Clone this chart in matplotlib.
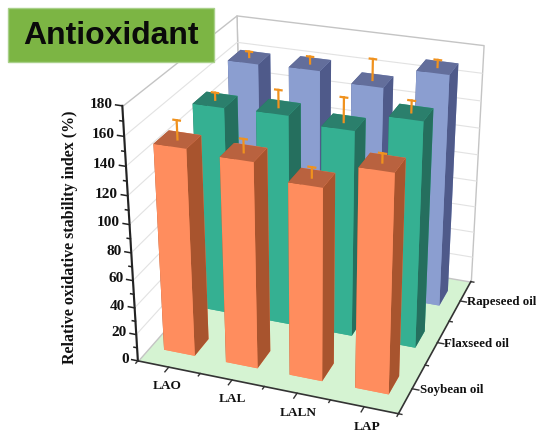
import numpy as np
import matplotlib
matplotlib.use('Agg')
import matplotlib.pyplot as plt
from matplotlib.patches import Rectangle
from mpl_toolkits.mplot3d import proj3d
from mpl_toolkits.mplot3d.art3d import Poly3DCollection

categories = ['LAO', 'LAL', 'LALN', 'LAP']
oils = ['Soybean oil', 'Flaxseed oil', 'Rapeseed oil']
soybean = [149, 147, 137, 154]
flaxseed = [153, 154, 150, 163]
rapeseed = [162, 163, 157, 172]
soybean_err = [13, 9, 7, 6]
flaxseed_err = [5, 12, 17, 8]
rapeseed_err = [4, 5, 15, 5]
zticks = [0, 20, 40, 60, 80, 100, 120, 140, 160, 180]

# front, side, top colours for each row
colors = [('#FF8D5E', '#A8542E', '#B9623F'),
          ('#35B092', '#256F5E', '#2B7F6C'),
          ('#8B9ED0', '#4F5A8A', '#636E9B')]
values = [soybean, flaxseed, rapeseed]
errors = [soybean_err, flaxseed_err, rapeseed_err]

plt.rcParams['font.family'] = ['Liberation Serif', 'DejaVu Serif']
plt.rcParams['font.weight'] = 'bold'

fig = plt.figure(figsize=(5.36, 4.34), dpi=100)
ax = fig.add_axes([0.03, -0.05, 1.08, 1.14], projection='3d', computed_zorder=False)
ax.set_proj_type('persp', focal_length=0.55)
ax.view_init(elev=26, azim=-70)
ax.set_box_aspect((3.7, 3.7, 3.74), zoom=0.92)
ax.set_xlim(0, 4)
ax.set_ylim(0, 3)
ax.set_zlim(0, 180)
ax.set_axis_off()


def label3d(x, y, z, s, **kw):
    # project to the 2d view so the text keeps a real 2d position
    px, py, _ = proj3d.proj_transform(x, y, z, ax.get_proj())
    ax.text2D(px, py, s, transform=ax.transData, va='center', color='#111111', **kw)


# --- walls and floor
floor = [[(0, 0, 0), (4, 0, 0), (4, 3, 0), (0, 3, 0)]]
ax.add_collection3d(Poly3DCollection(floor, facecolor='#D5F3D2', edgecolor='none', zorder=1))
back = [[(0, 3, 0), (4, 3, 0), (4, 3, 180), (0, 3, 180)]]
ax.add_collection3d(Poly3DCollection(back, facecolor='white', edgecolor='#C4C4C4', linewidth=1.0, zorder=1))
left = [[(0, 0, 0), (0, 3, 0), (0, 3, 180), (0, 0, 180)]]
ax.add_collection3d(Poly3DCollection(left, facecolor='white', edgecolor='#C4C4C4', linewidth=1.0, zorder=1))
for z in zticks[1:-1]:
    ax.plot([0, 0, 4], [0, 3, 3], [z, z, z], color='#E2E2E2', lw=0.8, zorder=2)

# --- axes lines, ticks and labels
ax.plot([0, 0], [0, 0], [0, 180], color='#222222', lw=1.5, zorder=3)
ax.plot([0, 4], [0, 0], [0, 0], color='#333333', lw=1.2, zorder=3)
ax.plot([4, 4], [0, 3], [0, 0], color='#333333', lw=1.2, zorder=3)
for z in range(0, 181, 10):
    major = z % 20 == 0
    tick = 0.1 if major else 0.05
    ax.plot([-tick, 0], [0, 0], [z, z], color='#222222', lw=1.1, zorder=3)
for z in zticks:
    label3d(-0.15, 0, z, str(z), ha='right', fontsize=11)
for i in range(9):
    tick = 0.1 if i % 2 else 0.05
    ax.plot([i / 2, i / 2], [-tick, 0], [0, 0], color='#333333', lw=1.0, zorder=3)
for i, name in enumerate(categories):
    label3d(i + 0.69, -0.34, 0, name, ha='center', fontsize=9.6)
for j in range(7):
    tick = 0.1 if j % 2 else 0.05
    ax.plot([4, 4 + tick], [j / 2, j / 2], [0, 0], color='#333333', lw=1.0, zorder=3)
for j, name in enumerate(oils):
    label3d(4.11, j + 0.5, 0, name, ha='left', fontsize=9.3)
fig.text(70 / 536, 1 - 237 / 434, 'Relative oxidative stability index (%)', rotation=90,
         ha='center', va='center', fontsize=11.5, color='#111111')

# --- bars, back row first
width = 0.5
depth = 0.38
order = 10
for j in [2, 1, 0]:
    front, side, top = colors[j]
    # bar3d faces: bottom, top, front, back, left, right
    face = [front, top, front, front, side, side]
    for i in range(4):
        x0 = i + 0.48 - width / 2
        y0 = j + 0.5 - depth / 2
        ax.bar3d(x0, y0, 0, width, depth, values[j][i], color=face, shade=False,
                 edgecolor='none', zorder=order)
        order += 1
        xc, yc = i + 0.48, j + 0.5
        zt = values[j][i]
        err = errors[j][i]
        ax.plot([xc, xc], [yc, yc], [zt, zt + err], color='#F0921E', lw=1.6, zorder=order)
        ax.plot([xc - 0.05, xc + 0.05], [yc, yc], [zt + err, zt + err], color='#F0921E',
                lw=1.6, zorder=order)
        order += 1

# --- label box
fig.add_artist(Rectangle((8 / 536, 1 - 62 / 434), 206 / 536, 54 / 434, transform=fig.transFigure,
                         facecolor='#7CB544', edgecolor='#A9D08A', lw=1))
fig.text(111 / 536, 1 - 36 / 434, 'Antioxidant', ha='center', va='center', fontsize=23,
         family='Liberation Sans', weight='bold', color='#0A0A0A')

fig.savefig('out.png', dpi=100)
